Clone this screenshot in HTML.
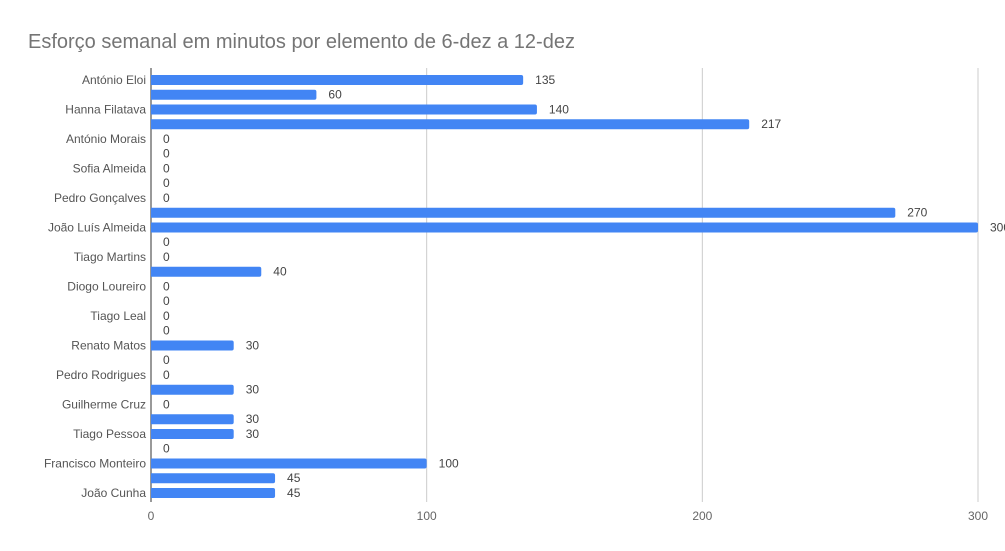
<!DOCTYPE html>
<html><head><meta charset="utf-8"><style>
body{margin:0;background:#fff;}
svg{display:block;font-family:"Liberation Sans",Roboto,sans-serif;}
</style></head><body>
<svg id="chart" width="1005" height="551">
<text x="28" y="48" font-size="20" fill="#757575">Esforço semanal em minutos por elemento de 6-dez a 12-dez</text>
<g id="grid"></g><g id="bars"></g><g id="labels"></g>
</svg>
<script>
const categories=["António Eloi","","Hanna Filatava","","António Morais","","Sofia Almeida","","Pedro Gonçalves","","João Luís Almeida","","Tiago Martins","","Diogo Loureiro","","Tiago Leal","","Renato Matos","","Pedro Rodrigues","","Guilherme Cruz","","Tiago Pessoa","","Francisco Monteiro","","João Cunha"];
const values=[135,60,140,217,0,0,0,0,0,270,300,0,0,40,0,0,0,0,30,0,0,30,0,30,30,0,100,45,45];
const ticks=[0,100,200,300];
const NS="http://www.w3.org/2000/svg";
const x0=151,x1=978,maxV=300,yTop=72.6,step=14.75;
const xs=v=>x0+(v/maxV)*(x1-x0);
const yc=i=>yTop+step*(i+0.5);
function mk(tag,attrs,parent,text){const e=document.createElementNS(NS,tag);for(const k in attrs)e.setAttribute(k,attrs[k]);if(text!==undefined)e.textContent=text;document.getElementById(parent).appendChild(e);return e;}
ticks.forEach(t=>{
  const l=mk('line',{x1:xs(t),x2:xs(t),y1:68,y2:502,stroke:t===0?'#333':'#ccc','stroke-width':1},'grid');
  
  
  const tx=mk('text',{x:xs(t),y:520,'font-size':12,fill:'#666','text-anchor':'middle'},'grid',String(t));
  
  
});
values.forEach((v,i)=>{
  const y=yc(i);
  if(v>0){
    const w=xs(v)-x0;
    const r=mk('path',{d:`M${x0},${y-5}H${x0+w-2}Q${x0+w},${y-5} ${x0+w},${y-3}V${y+3}Q${x0+w},${y+5} ${x0+w-2},${y+5}H${x0}Z`,fill:'#4285f4'},'bars');
    
    
  }
  const vl=mk('text',{x:xs(v)+12,y:y+4,'font-size':12,fill:'#444'},'labels',String(v));
  
  
  if(categories[i]){
    const cl=mk('text',{x:146,y:y+4,'font-size':12,fill:'#555','text-anchor':'end'},'labels',categories[i]);
    
    
  }
});
</script>
</body></html>
